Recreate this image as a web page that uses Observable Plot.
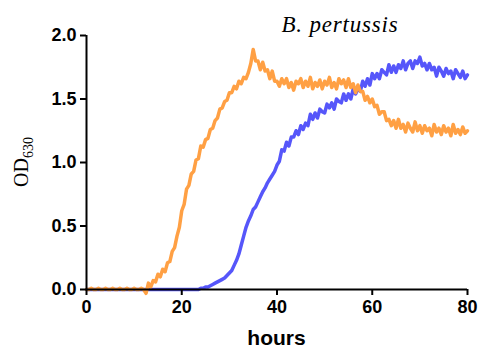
<!DOCTYPE html>
<html>
<head>
<meta charset="utf-8">
<script src="https://cdn.jsdelivr.net/npm/d3@7"></script>
<script src="https://cdn.jsdelivr.net/npm/@observablehq/plot@0.6"></script>
<style>
  html, body { margin: 0; padding: 0; background: #fff; }
  #chart svg { display: block; }
</style>
</head>
<body>
<div id="chart"></div>
<script>
// Time step between readings (hours)
const stepHours = 0.5;

// Orange series (OD630), one reading every 0.5 h from 0 to 80 h (10 readings = 5 h per row)
const orangeOD = [
  0.00,0.00,0.01,0.00,0.00,0.01,0.00,0.00,0.01,0.00,
  0.00,0.01,0.00,0.00,0.01,0.00,0.00,0.01,0.00,0.00,
  0.01,0.00,0.00,0.01,0.00,-0.03,0.05,0.02,0.07,0.06,
  0.12,0.10,0.16,0.14,0.21,0.22,0.30,0.33,0.42,0.49,
  0.62,0.67,0.79,0.82,0.91,0.93,1.02,1.03,1.13,1.12,
  1.18,1.19,1.26,1.27,1.33,1.35,1.42,1.43,1.48,1.49,
  1.55,1.55,1.60,1.58,1.64,1.62,1.67,1.66,1.71,1.78,
  1.89,1.80,1.80,1.73,1.79,1.72,1.73,1.66,1.72,1.64,
  1.64,1.60,1.66,1.62,1.66,1.59,1.63,1.57,1.64,1.62,
  1.66,1.59,1.64,1.60,1.67,1.58,1.63,1.60,1.65,1.58,
  1.64,1.61,1.67,1.59,1.63,1.58,1.66,1.62,1.65,1.59,
  1.66,1.59,1.62,1.55,1.61,1.56,1.56,1.49,1.52,1.47,
  1.50,1.44,1.45,1.38,1.40,1.40,1.33,1.34,1.29,1.33,
  1.27,1.34,1.27,1.30,1.24,1.31,1.27,1.24,1.32,1.25,
  1.29,1.23,1.29,1.25,1.27,1.21,1.30,1.24,1.27,1.22,
  1.29,1.24,1.27,1.21,1.30,1.23,1.26,1.22,1.28,1.23,
  1.25
];

// Blue series (OD630), one reading every 0.5 h from 0 to 80 h (10 readings = 5 h per row)
const blueOD = [
  0.00,0.00,0.00,0.00,0.00,0.00,0.00,0.00,0.00,0.00,
  0.00,0.00,0.00,0.00,0.00,0.00,0.00,0.00,0.00,0.00,
  0.00,0.00,0.00,0.00,0.00,0.00,0.00,0.00,0.00,0.00,
  0.00,0.00,0.00,0.00,0.00,0.00,0.00,0.00,0.00,0.00,
  0.00,0.00,0.00,0.00,0.00,0.00,0.00,0.00,0.01,0.01,
  0.02,0.02,0.03,0.04,0.05,0.06,0.07,0.08,0.09,0.11,
  0.13,0.15,0.19,0.23,0.28,0.35,0.42,0.49,0.54,0.58,
  0.63,0.65,0.69,0.73,0.77,0.80,0.84,0.87,0.90,0.93,
  0.98,1.01,1.10,1.09,1.16,1.13,1.20,1.20,1.25,1.22,
  1.29,1.26,1.31,1.29,1.38,1.34,1.39,1.35,1.42,1.40,
  1.39,1.46,1.43,1.47,1.42,1.50,1.48,1.47,1.54,1.49,
  1.54,1.50,1.58,1.54,1.58,1.56,1.64,1.60,1.66,1.61,
  1.70,1.66,1.70,1.66,1.73,1.71,1.69,1.77,1.71,1.76,
  1.71,1.77,1.74,1.80,1.73,1.78,1.80,1.74,1.80,1.78,
  1.83,1.76,1.78,1.73,1.78,1.73,1.75,1.68,1.75,1.72,
  1.68,1.74,1.70,1.72,1.66,1.73,1.70,1.67,1.72,1.66,
  1.69
];

const xTicks = [0, 20, 40, 60, 80];
const yTicks = [0, 0.5, 1.0, 1.5, 2.0];
const titleText = "B. pertussis";
const xLabel = "hours";

const orange = orangeOD.map((v, i) => ({hour: i * stepHours, od: v}));
const blue = blueOD.map((v, i) => ({hour: i * stepHours, od: v}));

const sans = "'Liberation Sans', Arial, sans-serif";
const serif = "'Liberation Serif', 'Times New Roman', serif";

const plot = Plot.plot({
  width: 482,
  height: 356,
  marginLeft: 86,
  marginRight: 15,
  marginTop: 35,
  marginBottom: 67,
  style: {fontFamily: sans, background: "#fff", overflow: "visible"},
  x: {domain: [0, 80]},
  y: {domain: [0, 2]},
  marks: [
    Plot.line(blue, {x: "hour", y: "od", stroke: "#5656fa", strokeWidth: 3.5, strokeLinejoin: "round", clip: false}),
    Plot.line(orange, {x: "hour", y: "od", stroke: "#ffa044", strokeWidth: 3.5, strokeLinejoin: "round", clip: false}),
    Plot.axisY({ticks: yTicks, tickFormat: d3.format(".1f"), tickSize: 6, tickPadding: 4,
      fontSize: 18, fontWeight: "bold", stroke: "#000", strokeWidth: 2, fill: "#000", label: null}),
    Plot.axisX({ticks: xTicks, tickFormat: d3.format("d"), tickSize: 6, tickPadding: 5,
      fontSize: 18, fontWeight: "bold", stroke: "#000", strokeWidth: 2, fill: "#000", label: null}),
    Plot.ruleX([0], {stroke: "#000", strokeWidth: 2}),
    Plot.ruleY([0], {stroke: "#000", strokeWidth: 2})
  ]
});

const svg = d3.select(plot);
svg.append("text")
  .attr("x", 340).attr("y", 32)
  .attr("text-anchor", "middle")
  .style("font-family", serif).style("font-style", "italic").style("font-size", "23px")
  .style("letter-spacing", "0.8px")
  .attr("fill", "#000")
  .text(titleText);

svg.append("text")
  .attr("x", 276.5).attr("y", 345)
  .attr("text-anchor", "middle")
  .style("font-family", sans).style("font-weight", "bold").style("font-size", "21px")
  .attr("fill", "#000")
  .text(xLabel);

const yl = svg.append("text")
  .attr("transform", "translate(28,162) rotate(-90)")
  .attr("text-anchor", "middle")
  .style("font-family", serif).style("font-size", "20px")
  .attr("fill", "#000");
yl.append("tspan").text("OD");
yl.append("tspan").attr("dy", 5).style("font-size", "14px").text("630");

document.getElementById("chart").appendChild(plot);
</script>
</body>
</html>
